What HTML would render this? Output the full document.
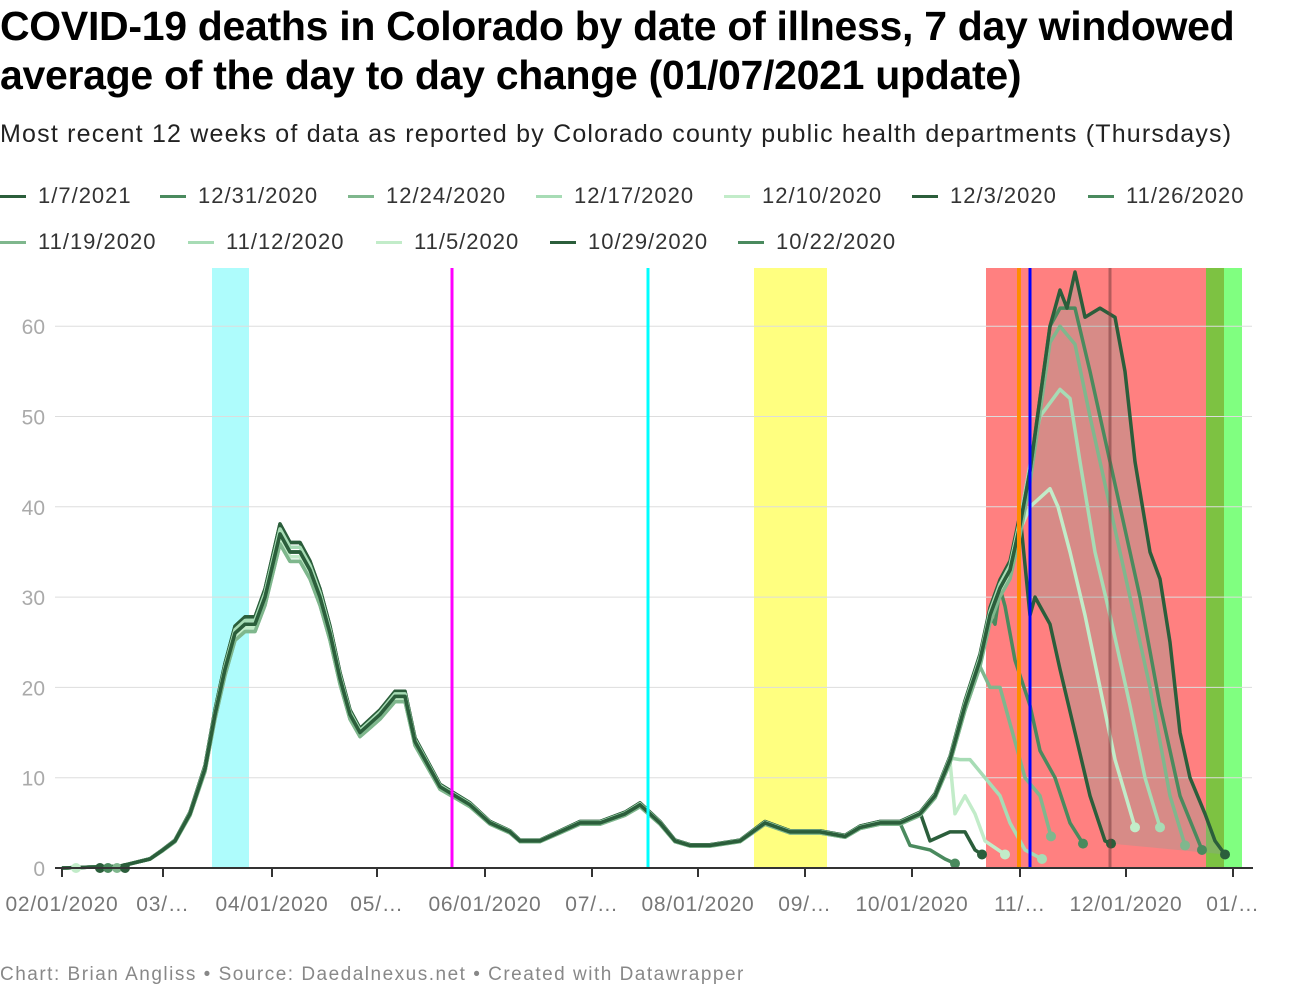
<!DOCTYPE html>
<html><head><meta charset="utf-8"><style>
body{margin:0;width:1300px;height:1000px;background:#fff;font-family:"Liberation Sans",sans-serif;overflow:hidden;position:relative}
h1{position:absolute;left:0;top:2px;margin:0;font-size:41px;line-height:49px;font-weight:bold;color:#000;letter-spacing:-0.3px;white-space:nowrap}
.sub{position:absolute;left:0;top:120px;font-size:25px;color:#222;letter-spacing:1.2px;white-space:nowrap}
.leg{position:absolute;font-size:22px;color:#333;display:flex;align-items:center;white-space:nowrap;letter-spacing:1px}
.leg i{display:inline-block;width:26px;height:3px;margin-right:12px}
.foot{position:absolute;left:0;top:964px;font-size:19px;color:#888;letter-spacing:1.5px;white-space:nowrap}
</style></head><body>
<h1>COVID-19 deaths in Colorado by date of illness, 7 day windowed<br>average of the day to day change (01/07/2021 update)</h1>
<div class="sub">Most recent 12 weeks of data as reported by Colorado county public health departments (Thursdays)</div>
<div id="legs"></div>
<svg id="c" width="1300" height="1000" style="position:absolute;left:0;top:0"></svg>
<div class="foot">Chart: Brian Angliss • Source: Daedalnexus.net • Created with Datawrapper</div>
<script>
const cols=["#2b5e3b","#4a8a5e","#7fb78d","#a7dcb5","#c2ecc9"];
const names=["1/7/2021","12/31/2020","12/24/2020","12/17/2020","12/10/2020","12/3/2020","11/26/2020","11/19/2020","11/12/2020","11/5/2020","10/29/2020","10/22/2020"];
const lx=[0,160,348,536,724,912,1088,0,188,376,550,738],ly=[196,196,196,196,196,196,196,242,242,242,242,242];
let lh="";names.forEach((n,i)=>{lh+=`<div class="leg" style="left:${lx[i]}px;top:${ly[i]-13}px"><i style="background:${cols[i%5]}"></i>${n}</div>`});
document.getElementById("legs").innerHTML=lh;
const Y=v=>868-v*9.03;
let s="";
s+=`<rect x="212" y="268" width="37" height="600" fill="#aefcfc"/>`;
s+=`<rect x="754" y="268" width="73" height="600" fill="#ffff80"/>`;
s+=`<rect x="986" y="268" width="220" height="600" fill="#ff8080"/>`;
s+=`<rect x="1206" y="268" width="18" height="600" fill="#7dc242"/>`;
s+=`<rect x="1224" y="268" width="18" height="600" fill="#80ff80"/>`;
for(let v=10;v<=60;v+=10){s+=`<line x1="55" x2="1252" y1="${Y(v)}" y2="${Y(v)}" stroke="#ddd" stroke-width="1"/>`;}
for(let v=0;v<=60;v+=10){s+=`<text x="45" y="${Y(v)+8}" text-anchor="end" font-size="21" fill="#aaa">${v}</text>`;}
const main=[[62,0],[120,0.2],[150,1],[163,2],[175,3],[190,6],[205,11],[215,17],[225,22],[235,26],[245,27],[255,27],[265,30],[280,37],[290,35],[300,35],[310,33],[320,30],[330,26],[340,21],[350,17],[360,15],[370,16],[380,17],[395,19],[405,19],[415,14],[425,12],[440,9],[455,8],[470,7],[490,5],[510,4],[520,3],[540,3],[560,4],[580,5],[600,5],[625,6],[640,7],[650,6],[660,5],[675,3],[690,2.5],[710,2.5],[740,3],[765,5],[790,4],[820,4],[845,3.5],[860,4.5],[880,5],[900,5],[920,6],[935,8],[950,12],[965,18],[980,23],[990,28],[1000,31],[1010,33],[1020,38],[1030,44],[1040,52],[1050,60],[1060,64],[1067,62],[1075,66],[1085,61],[1100,62],[1115,61],[1125,55],[1135,45],[1150,35],[1160,32],[1170,25],[1180,15],[1190,10],[1205,6],[1215,3],[1225,1.5]];
const tails=[null,
[[1060,62],[1075,62],[1090,55],[1100,50],[1120,40],[1140,30],[1160,18],[1180,8],[1202,2]],
[[1060,60],[1075,58],[1090,50],[1110,40],[1130,30],[1150,20],[1170,8],[1185,2.5]],
[[1040,50],[1060,53],[1070,52],[1080,45],[1095,35],[1110,28],[1130,18],[1145,10],[1160,4.5]],
[[1030,40],[1050,42],[1058,40],[1070,35],[1085,28],[1100,20],[1115,12],[1135,4.5]],
[[1030,28],[1035,30],[1050,27],[1060,22],[1075,15],[1090,8],[1105,3],[1111,2.7]],
[[995,27],[1000,31],[1005,29],[1015,23],[1030,18],[1040,13],[1055,10],[1070,5],[1083,2.7]],
[[990,20],[1000,20],[1015,14],[1025,10],[1040,8],[1051,3.5]],
[[960,12],[970,12],[985,10],[1000,8],[1010,5],[1025,2],[1042,1]],
[[955,6],[965,8],[975,6],[985,3],[1005,1.5]],
[[930,3],[950,4],[965,4],[975,2],[982,1.5]],
[[910,2.5],[930,2],[945,1],[955,0.5]]];
const series=tails.map((t,i)=>{if(!t)return main;const sx=t[0][0];return main.filter(p=>p[0]<sx-4).map(p=>[p[0],p[1]*(1-0.03*((i*7)%5-2)/2)]).concat(t);});
const f=main.filter(p=>p[0]>=1030);const t5=series[5].filter(p=>p[0]>=1030).reverse();
s+=`<polygon points="${f.map(p=>p[0]+','+Y(p[1])).join(' ')} ${t5.map(p=>p[0]+','+Y(p[1])).join(' ')}" fill="rgba(140,160,150,0.35)"/>`;
for(let i=11;i>=0;i--){const p=series[i];const c=cols[i%5];
s+=`<polyline points="${p.map(q=>q[0]+','+Y(q[1]).toFixed(1)).join(' ')}" fill="none" stroke="${c}" stroke-width="3.5" stroke-linejoin="round"/>`;
const e=p[p.length-1];s+=`<circle cx="${e[0]}" cy="${Y(e[1])}" r="5" fill="${c}"/>`;}
[[76,"#c2ecc9"],[100,"#2b5e3b"],[108,"#4a8a5e"],[117,"#7fb78d"],[125,"#2b5e3b"]].forEach(d=>s+=`<circle cx="${d[0]}" cy="868" r="5" fill="${d[1]}"/>`);
s+=`<line x1="452" x2="452" y1="268" y2="868" stroke="#ff00ff" stroke-width="3"/>`;
s+=`<line x1="648" x2="648" y1="268" y2="868" stroke="#00ffff" stroke-width="3"/>`;
s+=`<line x1="1019" x2="1019" y1="268" y2="868" stroke="#ff8c00" stroke-width="4"/>`;
s+=`<line x1="1030" x2="1030" y1="268" y2="868" stroke="#0000ff" stroke-width="3"/>`;
s+=`<line x1="1110" x2="1110" y1="268" y2="868" stroke="rgba(120,60,60,0.55)" stroke-width="3"/>`;
s+=`<line x1="55" x2="1253" y1="868" y2="868" stroke="#333" stroke-width="2"/>`;
const ticks=[[62,"02/01/2020"],[163,"03/…"],[272,"04/01/2020"],[377,"05/…"],[485,"06/01/2020"],[592,"07/…"],[698,"08/01/2020"],[805,"09/…"],[912,"10/01/2020"],[1020,"11/…"],[1126,"12/01/2020"],[1233,"01/…"]];
ticks.forEach(t=>{s+=`<line x1="${t[0]}" x2="${t[0]}" y1="868" y2="877" stroke="#333" stroke-width="2"/><text x="${t[0]}" y="911" text-anchor="middle" font-size="21" letter-spacing="0.8" fill="#777">${t[1]}</text>`;});
document.getElementById("c").innerHTML=s;
</script>
</body></html>
